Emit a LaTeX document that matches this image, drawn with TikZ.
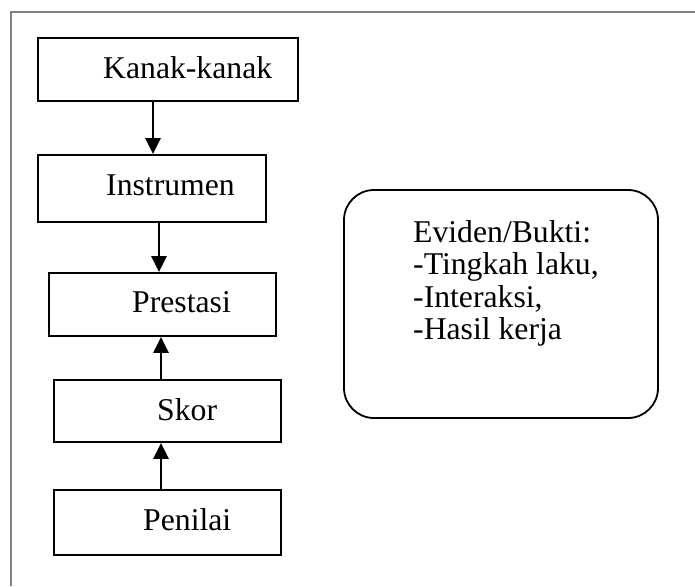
\documentclass[tikz,border=0pt]{standalone}
\usepackage{fontspec}
\setmainfont{Liberation Serif}
\usetikzlibrary{arrows.meta}
\begin{document}
\begin{tikzpicture}[x=1pt,y=-1pt,
  stepbox/.style={draw=black,line width=1.8pt,rectangle,inner sep=0pt},
  label/.style={inner sep=0pt,anchor=base west,font=\fontsize{31.7}{36}\selectfont},
  arr/.style={line width=2.4pt,-{Triangle[width=15pt,length=16pt]}},
  frame/.style={draw=black!50,line width=1.6pt}]
  \useasboundingbox (0,0) rectangle (695,586);

  % page frame (top and left edges)
  \draw[frame] (11,586) -- (11,12) -- (695,12);

  % flow boxes
  \node[stepbox,minimum width=260pt,minimum height=63pt] (kanak) at (168,69.5) {};
  \node[stepbox,minimum width=228pt,minimum height=67pt] (instr) at (152,188.5) {};
  \node[stepbox,minimum width=227pt,minimum height=63pt] (prest) at (162.5,304.5) {};
  \node[stepbox,minimum width=227pt,minimum height=62pt] (skor)  at (167.5,411) {};
  \node[stepbox,minimum width=227pt,minimum height=65pt] (nilai) at (167.5,522.5) {};

  % box labels
  \node[label] (tkanak) at (103,78)  {Kanak-kanak};
  \node[label] (tinstr) at (106,195) {Instrumen};
  \node[label] (tprest) at (132,312) {Prestasi};
  \node[label] (tskor)  at (157,420) {Skor};
  \node[label] (tnilai) at (143,530) {Penilai};

  % evidence box; the text node is placed by the baseline of its last line
  \node[draw=black,line width=1.8pt,rounded corners=30pt,minimum width=314pt,
        minimum height=228pt,inner sep=0pt] (bukti) at (501,304) {};
  \node[inner sep=0pt,anchor=base west,align=left,
        font=\fontsize{31.7}{32.5}\selectfont] (tbukti) at (413,339.5)
    {Eviden/Bukti:\\-Tingkah laku,\\-Interaksi,\\-Hasil kerja};

  % connectors
  \coordinate (c1) at (153,0);
  \coordinate (c2) at (159,0);
  \coordinate (c3) at (161,0);
  \draw[arr] (kanak.south -| c1) -- (instr.north -| c1);
  \draw[arr] (instr.south -| c2) -- (prest.north -| c2);
  \draw[arr] (skor.north -| c3) -- (prest.south -| c3);
  \draw[arr] (nilai.north -| c3) -- (skor.south -| c3);
\end{tikzpicture}
\end{document}
